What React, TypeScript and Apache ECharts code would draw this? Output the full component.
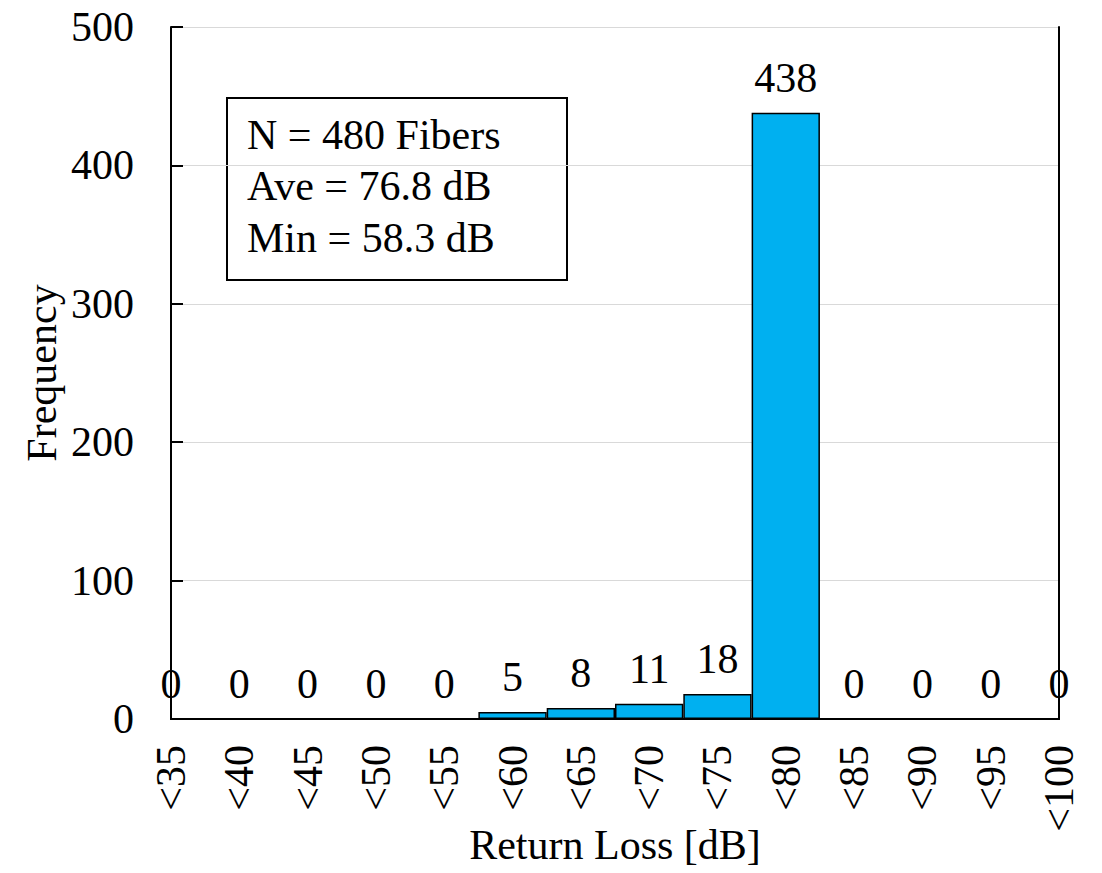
import React, { useEffect, useRef } from "react";
import * as echarts from "echarts";

// Return-loss histogram bins and counts
const binLabels: string[] = ["<35", "<40", "<45", "<50", "<55", "<60", "<65", "<70", "<75", "<80", "<85", "<90", "<95", "<100"];
const frequency: number[] = [0, 0, 0, 0, 0, 5, 8, 11, 18, 438, 0, 0, 0, 0];
const yTicks: number[] = [0, 100, 200, 300, 400, 500];

// Summary statistics shown in the inset box
const statLines: string[] = ["N = 480 Fibers", "Ave = 76.8 dB", "Min = 58.3 dB"];

const FONT = '"Liberation Serif", "Times New Roman", serif';
const FS = 42;
const BAR_COLOR = "#00B0F0";

export default function App() {
  const ref = useRef<HTMLDivElement>(null);

  useEffect(() => {
    if (!ref.current) return;
    const chart = echarts.init(ref.current, undefined, { renderer: "svg" });

    const yMax = yTicks[yTicks.length - 1];
    const yStep = yTicks[1] - yTicks[0];

    // empty bins keep their "0" label but draw no outline along the axis
    const barData = frequency.map((v) =>
      v === 0 ? { value: v, itemStyle: { borderWidth: 0 } } : v
    );

    chart.setOption({
      animation: false,
      backgroundColor: "#ffffff",
      textStyle: { fontFamily: FONT },
      grid: { left: 171, right: 43, top: 27, bottom: 154, outerBoundsMode: "none", containLabel: false },
      xAxis: [
        {
          type: "category",
          data: binLabels,
          boundaryGap: false,
          name: "Return Loss [dB]",
          nameLocation: "middle",
          nameGap: 105,
          nameMoveOverlap: false,
          nameTextStyle: { fontFamily: FONT, fontSize: FS, color: "#000" },
          axisLine: { show: true, lineStyle: { color: "#000", width: 2 } },
          axisTick: { show: false },
          axisLabel: {
            interval: 0,
            rotate: 90,
            margin: 26,
            fontFamily: FONT,
            fontSize: FS,
            color: "#000",
          },
          splitLine: { show: false },
        },
        {
          type: "category",
          data: binLabels,
          boundaryGap: false,
          position: "top",
          axisLine: { show: true, lineStyle: { color: "#000", width: 2 } },
          axisTick: { show: false },
          axisLabel: { show: false },
          splitLine: { show: false },
        },
      ],
      yAxis: [
        {
          type: "value",
          min: 0,
          max: yMax,
          interval: yStep,
          name: "Frequency",
          nameLocation: "middle",
          nameGap: 108,
          nameMoveOverlap: false,
          nameTextStyle: { fontFamily: FONT, fontSize: FS, color: "#000" },
          axisLine: { show: true, lineStyle: { color: "#000", width: 2 } },
          axisTick: { show: true, inside: true, length: 12, lineStyle: { color: "#000", width: 2 } },
          axisLabel: { margin: 37, fontFamily: FONT, fontSize: FS, color: "#000" },
          splitLine: { show: true, lineStyle: { color: "#d9d9d9", width: 1 } },
        },
        {
          type: "value",
          min: 0,
          max: yMax,
          interval: yStep,
          position: "right",
          axisLine: { show: true, lineStyle: { color: "#000", width: 2 } },
          axisTick: { show: false },
          axisLabel: { show: false },
          splitLine: { show: false },
        },
      ],
      series: [
        {
          type: "bar",
          data: barData,
          xAxisIndex: 0,
          yAxisIndex: 0,
          barCategoryGap: "0%",
          barWidth: "100%",
          clip: true,
          itemStyle: { color: BAR_COLOR, borderColor: "#000", borderWidth: 1.5 },
          label: {
            show: true,
            position: "top",
            distance: 14,
            fontFamily: FONT,
            fontSize: FS,
            color: "#000",
          },
          z: 3,
        },
      ],
      graphic: [
        {
          type: "group",
          left: 226,
          top: 97,
          z: 10,
          children: [
            {
              type: "rect",
              shape: { x: 0, y: 0, width: 340, height: 182 },
              style: { fill: "#fff", stroke: "#000", lineWidth: 2 },
            },
            ...statLines.map((t, i) => ({
              type: "text",
              x: 20,
              y: 36.5 + i * 51.5,
              style: {
                text: t,
                fontFamily: FONT,
                fontSize: FS,
                fill: "#000",
                verticalAlign: "middle",
                align: "left",
              },
            })),
          ],
        },
      ],
    });

    return () => chart.dispose();
  }, []);

  return (
    <div
      ref={ref}
      style={{ position: "fixed", left: 0, top: 0, width: 1102, height: 873, background: "#fff" }}
    />
  );
}
